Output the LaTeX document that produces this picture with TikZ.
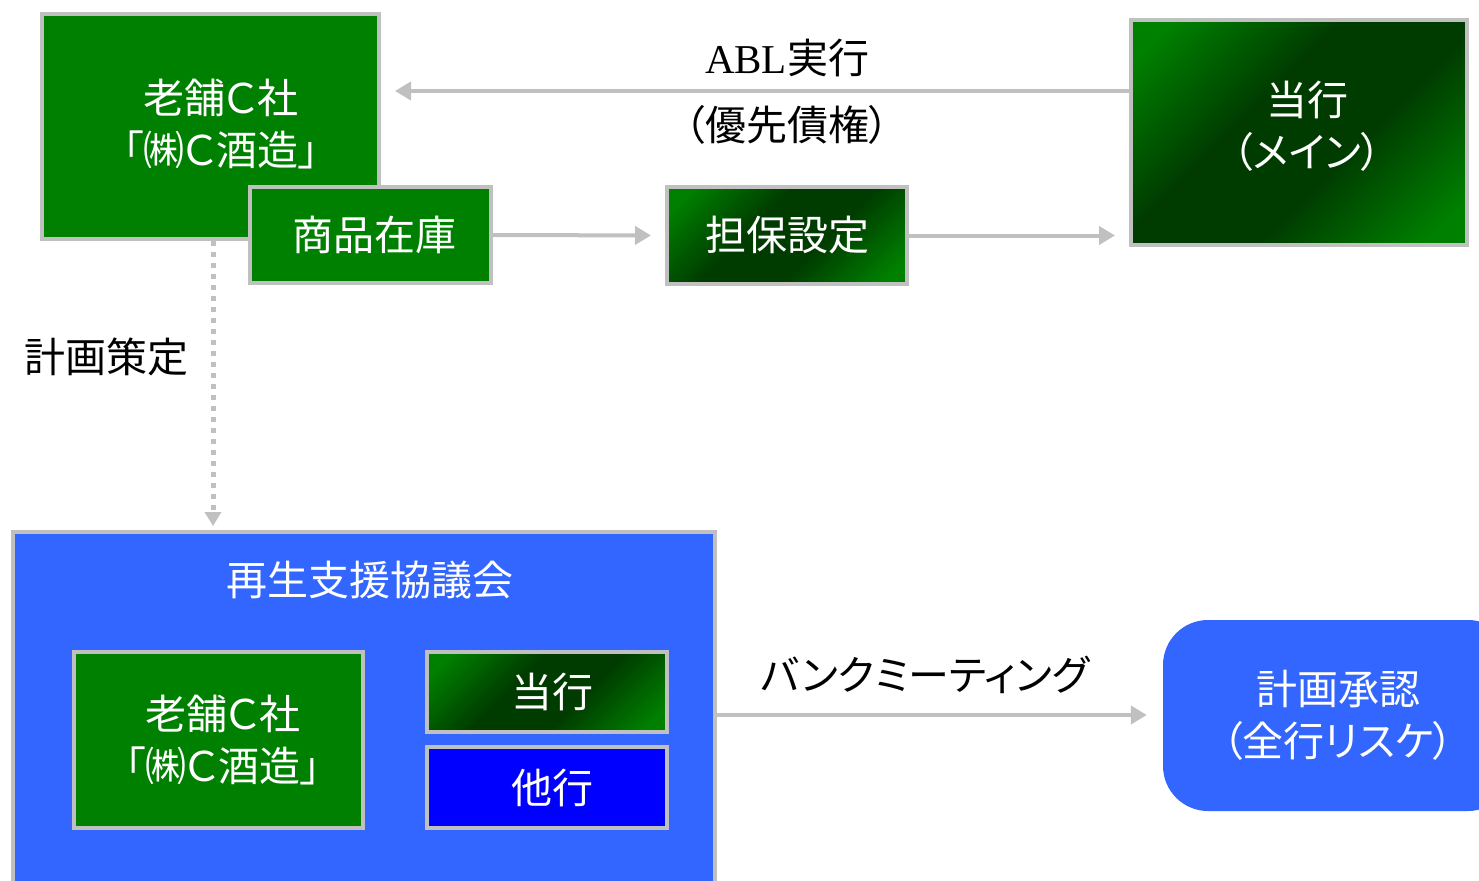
\documentclass[tikz,border=0pt]{standalone}
\usepackage{fontspec}
\newfontfamily\jp[RawFeature=+palt]{Noto Sans CJK JP}
\newfontfamily\tms{Liberation Serif}
\usetikzlibrary{arrows.meta}
\definecolor{gr}{HTML}{008000}
\definecolor{dgr}{HTML}{003C00}
\definecolor{bl}{HTML}{3366FF}
\definecolor{pb}{HTML}{0000FF}
\definecolor{gy}{HTML}{C0C0C0}
\pgfdeclareverticalshading{gband}{100bp}{color(0bp)=(gr); color(20bp)=(gr); color(41bp)=(dgr); color(59bp)=(dgr); color(80bp)=(gr); color(100bp)=(gr)}
\begin{document}
\begin{tikzpicture}[x=1pt,y=-1pt,
  txt/.style={inner sep=0pt, align=center, font=\jp\fontsize{41}{52}\selectfont},
  wtxt/.style={txt, text=white},
  lbl/.style={txt, text=black},
  box/.style={wtxt, draw=gy, line width=4pt},
  flat/.style={box, fill=gr},
  grad/.style={box, shading=gband, shading angle=45},
  conn/.style={draw=gy, line width=4pt, -{Triangle[length=16pt,width=18pt]}}]
\clip (0,0) rectangle (1479,880);
\fill[white] (0,0) rectangle (1479,880);
\coordinate (y91) at (0,91);
\coordinate (x213) at (213,0);
% top row
\node[flat, minimum width=337pt, minimum height=225pt] (shinise) at (210.5,126.5) {};
\node[wtxt] (shiniseT) at (221,124) {老舗Ｃ社\\「㈱Ｃ酒造」};
\node[flat, minimum width=241pt, minimum height=96pt] (shohin) at (370.5,235) {\hspace{8pt}商品在庫};
\node[grad, minimum width=240pt, minimum height=97pt] (tanpo) at (787,235.5) {担保設定};
\node[grad, minimum width=336pt, minimum height=225pt] (bank) at (1299,132.5) {};
\node[wtxt] (bankT) at (1307,126) {当行\\（メイン）};
% labels
\node[lbl] (abl) at (787,58) {\tms ABL\jp 実行};
\node[lbl] (yusen) at (787,125) {（優先債権）};
\node[lbl] (keikaku) at (106,357) {計画策定};
% council
\node[box, fill=bl, minimum width=702pt, minimum height=366pt] (council) at (364,715) {};
\node[wtxt] (councilT) at (370,580) {再生支援協議会};
\node[flat, minimum width=289pt, minimum height=176pt] (shinise2) at (218.5,740) {};
\node[wtxt] (shinise2T) at (223,740) {老舗Ｃ社\\「㈱Ｃ酒造」};
\node[grad, minimum width=240pt, minimum height=80pt] (tou2) at (547,692) {\hspace{10pt}当行};
\node[box, fill=pb, minimum width=240pt, minimum height=81pt] (takou) at (547,787.5) {\hspace{10pt}他行};
% approval
\node[wtxt, fill=bl, rounded corners=45pt, minimum width=350pt, minimum height=191pt] (shonin) at (1338,715.5) {計画承認\\（全行リスケ）};
\node[lbl] (bankmtg) at (925,675) {バンクミーティング};
% connectors
\draw[conn, shorten >=14pt] (bank.west |- y91) -- (shinise.east |- y91);
\draw[conn, shorten >=14pt] (shohin.east) -- (tanpo.west);
\draw[conn, shorten >=14pt] (tanpo.east) -- (tanpo.east -| bank.west);
\draw[draw=gy, line width=5pt, dash pattern=on 5pt off 6pt, -{Triangle[length=14pt,width=16pt]}, shorten >=4pt] (shinise.south -| x213) -- (council.north -| x213);
\draw[conn, shorten >=16pt] (council.east) -- (council.east -| shonin.west);
\end{tikzpicture}
\end{document}
